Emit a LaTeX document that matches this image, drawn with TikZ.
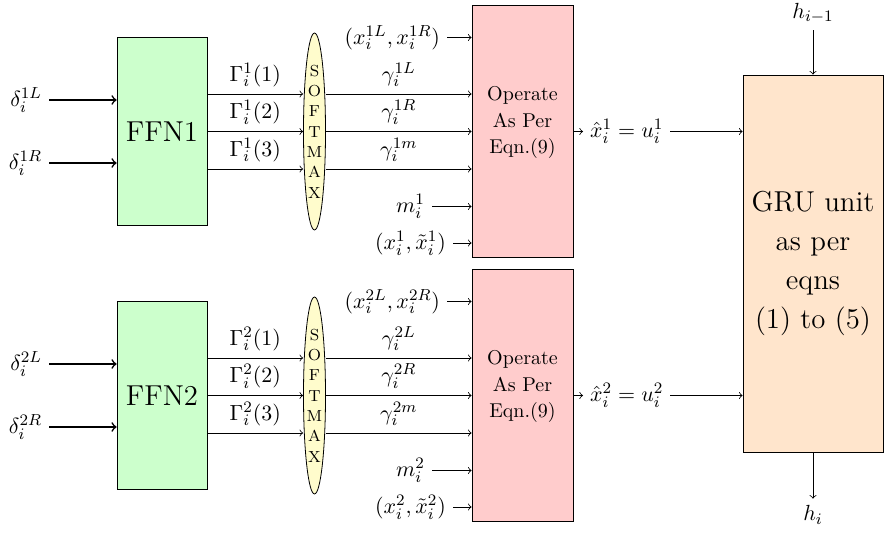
\documentclass[tikz,border=0pt]{standalone}
\usetikzlibrary{shapes.geometric}
\begin{document}
\begin{tikzpicture}[x=0.5pt,y=-0.5pt,
  ffnbox/.style={draw=black, fill=green!20, minimum width=45pt, minimum height=94pt, inner sep=0pt, font=\Large},
  opbox/.style={draw=black, fill=red!20, minimum width=50.5pt, minimum height=126pt, inner sep=0pt},
  smbox/.style={draw=black, ellipse, fill=yellow!20, minimum width=10.5pt, minimum height=98.5pt, inner sep=0pt, align=center, font=\footnotesize},
  grubox/.style={draw=black, fill=orange!20, minimum width=70pt, minimum height=188.5pt, inner sep=0pt, align=center, font=\Large},
  mlbl/.style={font=\fontsize{11}{13.5}\selectfont},
  arr/.style={->},
  tharr/.style={->, thick}]
\useasboundingbox (0,0) rectangle (884,534);
\node[grubox] (gru) at (813,263.5) {GRU unit\\[1.5pt]as per\\[1.5pt]eqns\\[1.5pt](1) to (5)};
\node[mlbl] (hprev) at (813,13) {$h_{i-1}$};
\node[mlbl] (hi) at (813,515) {$h_i$};
\draw[arr] (hprev.south) -- (gru.north);
\draw[arr] (gru.south) -- (hi.north);
\foreach \k/\yc in {1/131.5,2/395.5}{
  \pgfmathsetmacro\ya{\yc-37.5}
  \pgfmathsetmacro\yb{\yc+37.5}
  \pgfmathsetmacro\dl{\yc-31.5}
  \pgfmathsetmacro\dr{\yc+31.5}
  \pgfmathsetmacro\ia{\yc-94}
  \pgfmathsetmacro\im{\yc+75}
  \pgfmathsetmacro\ix{\yc+111.5}
  \pgfmathsetmacro\yt{\yc-9}
  \coordinate (ra\k) at (0,\ya);
  \coordinate (rm\k) at (0,\yc);
  \coordinate (rb\k) at (0,\yb);
  \node[ffnbox] (ffn\k) at (162,\yc) {FFN\k};
  \node[smbox] (sm\k) at (314.5,\yc) {S\\[0.65pt]O\\[0.65pt]F\\[0.65pt]T\\[0.65pt]M\\[0.65pt]A\\[0.65pt]X};
  \node[opbox] (op\k) at (522.5,\yc) {};
  \node[align=center] (opt\k) at (522.5,\yt) {Operate\\[1.25pt]As Per\\[1.25pt]Eqn.(9)};
  \node[mlbl, anchor=east] (dl\k) at (49,\dl) {$\delta_i^{\k L}$};
  \node[mlbl, anchor=east] (dr\k) at (49,\dr) {$\delta_i^{\k R}$};
  \draw[tharr] (dl\k.east) -- (dl\k.east -| ffn\k.west);
  \draw[tharr] (dr\k.east) -- (dr\k.east -| ffn\k.west);
  \draw[arr] (ffn\k.east |- ra\k) -- (sm\k.west |- ra\k) node[mlbl, midway, above] {$\Gamma_i^{\k}(1)$};
  \draw[arr] (ffn\k.east |- rm\k) -- (sm\k.west |- rm\k) node[mlbl, midway, above] {$\Gamma_i^{\k}(2)$};
  \draw[arr] (ffn\k.east |- rb\k) -- (sm\k.west |- rb\k) node[mlbl, midway, above] {$\Gamma_i^{\k}(3)$};
  \draw[arr] (sm\k.east |- ra\k) -- (op\k.west |- ra\k) node[mlbl, midway, above] {$\gamma_i^{\k L}$};
  \draw[arr] (sm\k.east |- rm\k) -- (op\k.west |- rm\k) node[mlbl, midway, above] {$\gamma_i^{\k R}$};
  \draw[arr] (sm\k.east |- rb\k) -- (op\k.west |- rb\k) node[mlbl, midway, above] {$\gamma_i^{\k m}$};
  \node[mlbl, anchor=east] (ia\k) at (447,\ia) {$(x_i^{\k L},x_i^{\k R})$};
  \node[mlbl, anchor=east] (im\k) at (432,\im) {$m_i^{\k}$};
  \node[mlbl, anchor=east] (ix\k) at (453,\ix) {$(x_i^{\k},\tilde{x}_i^{\k})$};
  \draw[arr] (ia\k.east) -- (ia\k.east -| op\k.west);
  \draw[arr] (im\k.east) -- (im\k.east -| op\k.west);
  \draw[arr] (ix\k.east) -- (ix\k.east -| op\k.west);
  \node[mlbl, anchor=west] (xh\k) at (583,\yc) {$\hat{x}_i^{\k}=u_i^{\k}$};
  \draw[arr] (op\k.east) -- (xh\k.west);
  \draw[arr] (xh\k.east) -- (xh\k.east -| gru.west);
}
\end{tikzpicture}
\end{document}
